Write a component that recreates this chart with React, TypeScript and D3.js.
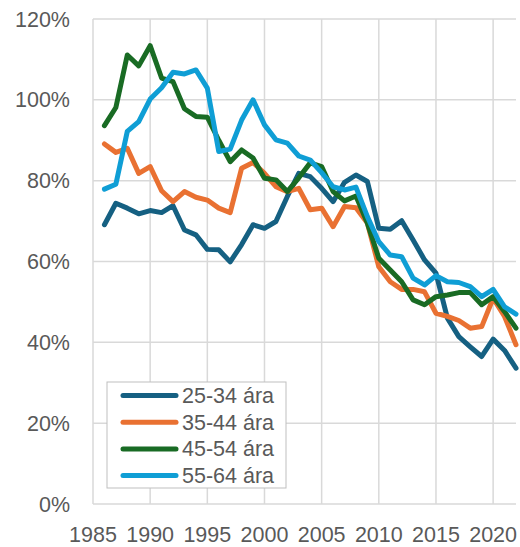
import * as d3 from 'd3';
import React from 'react';

const years: number[] = d3.range(1986, 2023);
const seriesNames: string[] = ['25-34 ára', '35-44 ára', '45-54 ára', '55-64 ára'];
const colors: string[] = ['#156082', '#E97132', '#196B24', '#0F9ED5'];

const age2534: number[] = [
    69.1, 74.4, 73.2, 71.8, 72.6, 72.1, 73.8, 67.8, 66.6, 63.0, 62.9, 59.9, 64.2, 69.1, 68.2, 69.9,
    76.1, 81.8, 81.0, 78.1, 74.8, 79.6, 81.4, 79.8, 68.2, 68.0, 70.1, 65.3, 60.4, 57.1, 46.0, 41.4,
    38.9, 36.5, 40.8, 38.0, 33.6,
];
const age3544: number[] = [
    89.1, 87.0, 88.0, 81.8, 83.5, 77.5, 74.8, 77.3, 75.9, 75.2, 73.2, 72.1, 83.1, 84.5, 81.8, 78.5,
    77.3, 78.1, 72.8, 73.2, 68.6, 73.6, 73.3, 69.5, 58.7, 55.0, 53.1, 53.1, 52.5, 47.2, 46.4, 45.4,
    43.5, 43.9, 50.9, 46.4, 39.4,
];
const age4554: number[] = [
    93.6, 98.1, 111.1, 108.4, 113.4, 105.4, 104.5, 97.8, 95.9, 95.7, 90.0, 84.7, 87.6, 85.6, 80.6, 80.2,
    77.3, 80.7, 84.4, 83.5, 77.3, 75.0, 76.2, 69.5, 60.8, 57.9, 55.0, 50.5, 49.3, 51.3, 51.7, 52.3,
    52.3, 49.3, 51.3, 47.6, 43.5,
];
const age5564: number[] = [
    77.9, 79.1, 92.2, 94.6, 100.2, 103.0, 106.8, 106.4, 107.4, 102.9, 87.2, 87.8, 95.0, 100.0, 93.8, 90.1,
    89.3, 86.1, 85.1, 82.0, 78.5, 77.7, 78.4, 71.1, 64.9, 61.6, 61.2, 55.9, 54.2, 56.5, 55.0, 54.8,
    53.8, 51.3, 53.1, 48.8, 47.0,
];
const yTicks: number[] = [0, 20, 40, 60, 80, 100, 120];
const xTicks: number[] = [1985, 1990, 1995, 2000, 2005, 2010, 2015, 2020];

const App = (): React.ReactElement => {
    const width = 520;
    const height = 547;
    const allSeries = [age2534, age3544, age4554, age5564];

    const xScale = d3.scaleLinear().domain([1985, 2022]).range([93, 516]);
    const yScale = d3.scaleLinear().domain([0, 120]).range([504, 19]);

    const line = d3
        .line<number>()
        .x((_, i) => xScale(years[i]))
        .y((d) => yScale(d));

    const font = "'Liberation Sans', Arial, sans-serif";
    const textColor = '#595959';
    const grid = '#d9d9d9';

    return (
        <svg
            width={width}
            height={height}
            style={{ position: 'absolute', left: 0, top: 0, background: '#fff' }}
            fontFamily={font}
        >
            {/* grid */}
            {yTicks.map((t) => (
                <line key={'h' + t} x1={93} x2={516} y1={yScale(t)} y2={yScale(t)} stroke={grid} strokeWidth={1.5} />
            ))}
            {xTicks.map((t) => (
                <line key={'v' + t} x1={xScale(t)} x2={xScale(t)} y1={19} y2={504} stroke={grid} strokeWidth={1.5} />
            ))}

            {/* y labels */}
            {yTicks.map((t) => (
                <text
                    key={'yl' + t}
                    x={70}
                    y={yScale(t)}
                    dy="0.35em"
                    textAnchor="end"
                    fontSize={21.5}
                    fill={textColor}
                >
                    {t + '%'}
                </text>
            ))}

            {/* x labels */}
            {xTicks.map((t) => (
                <text key={'xl' + t} x={xScale(t)} y={541.5} textAnchor="middle" fontSize={21.5} fill={textColor}>
                    {t}
                </text>
            ))}

            {/* lines */}
            {allSeries.map((s, i) => (
                <path
                    key={'s' + i}
                    d={line(s) ?? ''}
                    fill="none"
                    stroke={colors[i]}
                    strokeWidth={5}
                    strokeLinejoin="round"
                    strokeLinecap="round"
                />
            ))}

            {/* legend */}
            <rect x={107} y={382} width={179} height={106} fill="#fff" stroke="#bfbfbf" strokeWidth={1} />
            {seriesNames.map((name, i) => {
                const y = 395.5 + i * 26.7;
                return (
                    <g key={'lg' + i}>
                        <line x1={123} x2={176} y1={y} y2={y} stroke={colors[i]} strokeWidth={5} strokeLinecap="round" />
                        <text x={182} y={y} dy="0.35em" fontSize={21.5} fill={textColor}>
                            {name}
                        </text>
                    </g>
                );
            })}
        </svg>
    );
};

export default App;
